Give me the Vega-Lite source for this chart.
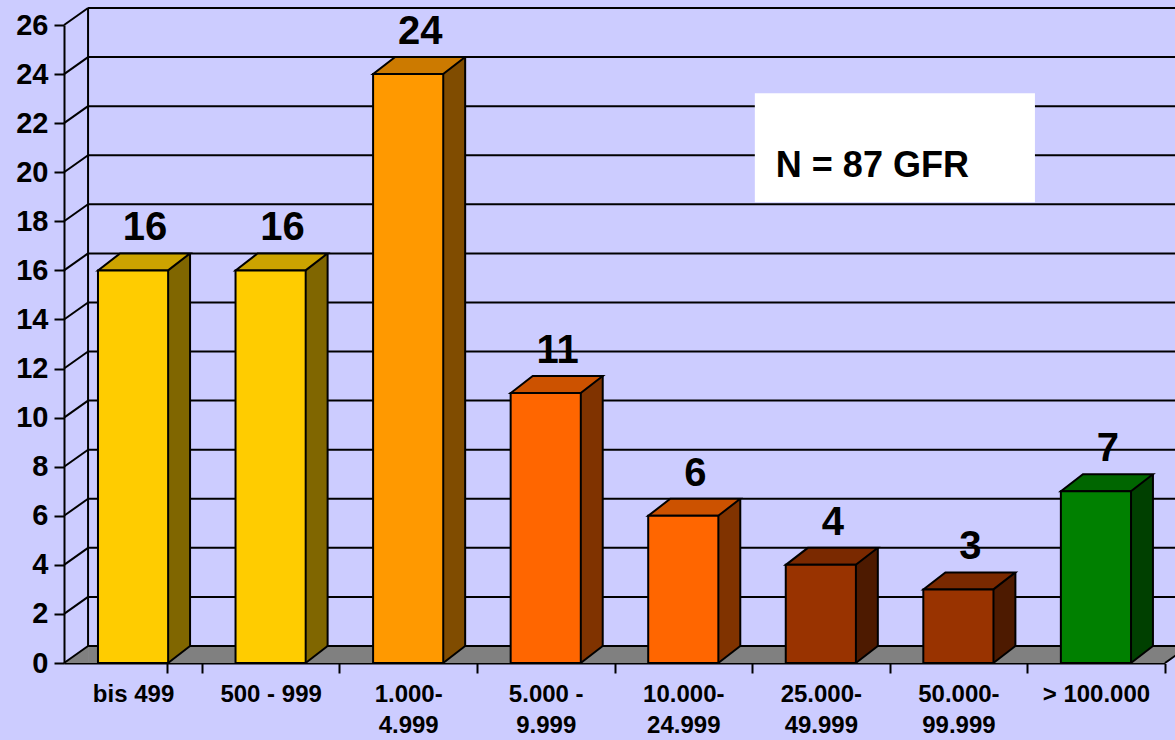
{
  "$schema": "https://vega.github.io/schema/vega-lite/v6.json",
  "width": 1101,
  "height": 638,
  "autosize": {"type": "none"},
  "padding": {"left": 64, "top": 25, "right": 10, "bottom": 77},
  "background": "#CCCCFF",
  "config": {
    "view": {"stroke": null},
    "font": "Liberation Sans",
    "axis": {
      "labelFont": "Liberation Sans",
      "labelFontWeight": "bold",
      "labelColor": "black",
      "domainColor": "black",
      "tickColor": "black",
      "domainWidth": 2,
      "tickWidth": 2,
      "tickSize": 10,
      "grid": false,
      "title": null,
      "zindex": 1
    }
  },
  "datasets": {
    "bars": [
      {"cat": "bis 499", "n": 16},
      {"cat": "500 - 999", "n": 16},
      {"cat": "1.000-\n4.999", "n": 24},
      {"cat": "5.000 -\n9.999", "n": 11},
      {"cat": "10.000-\n24.999", "n": 6},
      {"cat": "25.000-\n49.999", "n": 4},
      {"cat": "50.000-\n99.999", "n": 3},
      {"cat": "> 100.000", "n": 7}
    ],
    "ticks": [
      {"v": 0}, {"v": 2}, {"v": 4}, {"v": 6}, {"v": 8}, {"v": 10}, {"v": 12},
      {"v": 14}, {"v": 16}, {"v": 18}, {"v": 20}, {"v": 22}, {"v": 24}, {"v": 26}
    ],
    "one": [{}]
  },
  "resolve": {"scale": {"fill": "independent"}},
  "layer": [
    {
      "data": {"name": "one"},
      "mark": {"type": "rule", "color": "#808080", "strokeWidth": 17, "strokeCap": "butt", "yOffset": -8.5, "xOffset": -45, "x2Offset": 100},
      "encoding": {
        "x": {"datum": "bis 499", "type": "nominal", "scale": {"type": "band", "domain": ["bis 499", "500 - 999", "1.000-\n4.999", "5.000 -\n9.999", "10.000-\n24.999", "25.000-\n49.999", "50.000-\n99.999", "> 100.000"], "paddingInner": 0.49, "paddingOuter": 0.247}},
        "x2": {"datum": "> 100.000"},
        "y": {"datum": 0, "type": "quantitative", "scale": {"domain": [0, 26], "nice": false, "zero": true}}
      }
    },
    {
      "data": {"name": "one"},
      "mark": {"type": "point", "shape": "M-69,0L-45,0L-45,-17Z", "size": 4, "filled": true, "fill": "#808080", "stroke": null, "opacity": 1},
      "encoding": {
        "x": {"datum": "bis 499", "type": "nominal"},
        "y": {"datum": 0, "type": "quantitative"}
      }
    },
    {
      "data": {"name": "one"},
      "mark": {"type": "point", "shape": "M69,1L93,-17L120,-17L120,1Z", "size": 4, "filled": true, "fill": "#CCCCFF", "stroke": null, "opacity": 1},
      "encoding": {
        "x": {"datum": "> 100.000", "type": "nominal"},
        "y": {"datum": 0, "type": "quantitative"}
      }
    },
    {
      "data": {"name": "one"},
      "mark": {"type": "point", "shape": "M69,0L93,-17", "size": 4, "filled": false, "stroke": "black", "strokeWidth": 2, "opacity": 1},
      "encoding": {
        "x": {"datum": "> 100.000", "type": "nominal"},
        "y": {"datum": 0, "type": "quantitative"}
      }
    },
    {
      "data": {"name": "ticks"},
      "mark": {"type": "rule", "color": "black", "strokeWidth": 2, "yOffset": -17, "xOffset": -45, "x2Offset": 100},
      "encoding": {
        "x": {"datum": "bis 499", "type": "nominal"},
        "x2": {"datum": "> 100.000"},
        "y": {"field": "v", "type": "quantitative", "title": null}
      }
    },
    {
      "data": {"name": "ticks"},
      "mark": {"type": "rule", "color": "black", "strokeWidth": 2, "xOffset": -69, "x2Offset": -45, "y2Offset": -17},
      "encoding": {
        "x": {"datum": "bis 499", "type": "nominal"},
        "x2": {"datum": "bis 499"},
        "y": {"field": "v", "type": "quantitative", "title": null},
        "y2": {"field": "v"}
      }
    },
    {
      "data": {"name": "one"},
      "mark": {"type": "rule", "color": "black", "strokeWidth": 2, "xOffset": -45, "yOffset": -17, "y2Offset": -17},
      "encoding": {
        "x": {"datum": "bis 499", "type": "nominal"},
        "y": {"datum": 26, "type": "quantitative"},
        "y2": {"datum": 0}
      }
    },
    {
      "data": {"name": "bars"},
      "mark": {"type": "bar", "width": 22, "xOffset": 46, "yOffset": -17, "y2Offset": -17, "stroke": null},
      "encoding": {
        "x": {"field": "cat", "type": "nominal", "sort": null, "title": null},
        "y": {"field": "n", "type": "quantitative", "title": null},
        "y2": {"datum": 0},
        "fill": {"field": "cat", "type": "nominal", "legend": null, "scale": {"domain": ["bis 499", "500 - 999", "1.000-\n4.999", "5.000 -\n9.999", "10.000-\n24.999", "25.000-\n49.999", "50.000-\n99.999", "> 100.000"], "range": ["#806600", "#806600", "#804C00", "#803300", "#803300", "#4D1A00", "#4D1A00", "#004000"]}}
      }
    },
    {
      "data": {"name": "bars"},
      "mark": {"type": "point", "shape": "M35,0L35,-18L57,-18L57,-17Z", "size": 4, "filled": true, "stroke": null, "opacity": 1},
      "encoding": {
        "x": {"field": "cat", "type": "nominal", "sort": null, "title": null},
        "y": {"datum": 0, "type": "quantitative"},
        "fill": {"field": "cat", "type": "nominal", "legend": null, "scale": {"domain": ["bis 499", "500 - 999", "1.000-\n4.999", "5.000 -\n9.999", "10.000-\n24.999", "25.000-\n49.999", "50.000-\n99.999", "> 100.000"], "range": ["#806600", "#806600", "#804C00", "#803300", "#803300", "#4D1A00", "#4D1A00", "#004000"]}}
      }
    },
    {
      "data": {"name": "bars"},
      "mark": {"type": "point", "shape": "M35,0L57,-17", "size": 4, "filled": false, "stroke": "black", "strokeWidth": 2, "opacity": 1},
      "encoding": {
        "x": {"field": "cat", "type": "nominal", "sort": null, "title": null},
        "y": {"datum": 0, "type": "quantitative"}
      }
    },
    {
      "data": {"name": "bars"},
      "mark": {"type": "rule", "color": "black", "strokeWidth": 2, "xOffset": 57, "yOffset": -17, "y2Offset": -17},
      "encoding": {
        "x": {"field": "cat", "type": "nominal", "sort": null, "title": null},
        "y": {"field": "n", "type": "quantitative", "title": null},
        "y2": {"datum": 0}
      }
    },
    {
      "data": {"name": "bars"},
      "mark": {"type": "point", "shape": "M-35,0L35,0L57,-17L-13,-17Z", "size": 4, "filled": true, "stroke": "black", "strokeWidth": 2, "strokeJoin": "miter", "opacity": 1},
      "encoding": {
        "x": {"field": "cat", "type": "nominal", "sort": null, "title": null},
        "y": {"field": "n", "type": "quantitative", "title": null},
        "fill": {"field": "cat", "type": "nominal", "legend": null, "scale": {"domain": ["bis 499", "500 - 999", "1.000-\n4.999", "5.000 -\n9.999", "10.000-\n24.999", "25.000-\n49.999", "50.000-\n99.999", "> 100.000"], "range": ["#CCA300", "#CCA300", "#CC7A00", "#CC5200", "#CC5200", "#7A2900", "#7A2900", "#006600"]}}
      }
    },
    {
      "data": {"name": "bars"},
      "mark": {"type": "bar", "stroke": "black", "strokeWidth": 2},
      "encoding": {
        "x": {
          "field": "cat", "type": "nominal", "sort": null, "title": null,
          "axis": {"labelExpr": "split(datum.label, '\\n')", "labelFontSize": 24, "labelAngle": 0, "labelAlign": "center", "labelLineHeight": 31, "labelPadding": 9, "labelBaseline": "top", "tickOffset": 68.8, "labelOffset": -68.8, "tickExtra": true, "labelFlush": false, "labelOverlap": false, "title": null}
        },
        "y": {
          "field": "n", "type": "quantitative", "title": null,
          "axis": {"values": [0, 2, 4, 6, 8, 10, 12, 14, 16, 18, 20, 22, 24, 26], "labelFontSize": 29, "labelPadding": 6, "title": null}
        },
        "y2": {"datum": 0},
        "fill": {"field": "cat", "type": "nominal", "legend": null, "scale": {"domain": ["bis 499", "500 - 999", "1.000-\n4.999", "5.000 -\n9.999", "10.000-\n24.999", "25.000-\n49.999", "50.000-\n99.999", "> 100.000"], "range": ["#FFCC00", "#FFCC00", "#FF9900", "#FF6600", "#FF6600", "#993300", "#993300", "#008000"]}}
      }
    },
    {
      "data": {"name": "bars"},
      "mark": {"type": "text", "fontSize": 40, "fontWeight": "bold", "font": "Liberation Sans", "color": "black", "dx": 12, "dy": -30, "baseline": "alphabetic"},
      "encoding": {
        "x": {"field": "cat", "type": "nominal", "sort": null, "title": null},
        "y": {"field": "n", "type": "quantitative", "title": null},
        "text": {"field": "n", "type": "quantitative"}
      }
    },
    {
      "data": {"name": "one"},
      "mark": {"type": "rule", "color": "white", "strokeWidth": 109, "strokeCap": "butt", "xOffset": -66, "x2Offset": -61},
      "encoding": {
        "x": {"datum": "25.000-\n49.999", "type": "nominal"},
        "x2": {"datum": "> 100.000"},
        "y": {"datum": 21, "type": "quantitative"}
      }
    },
    {
      "data": {"name": "one"},
      "mark": {"type": "text", "text": "N = 87 GFR", "fontSize": 36, "fontWeight": "bold", "font": "Liberation Sans", "color": "black", "align": "left", "baseline": "alphabetic", "dx": -45},
      "encoding": {
        "x": {"datum": "25.000-\n49.999", "type": "nominal"},
        "y": {"datum": 19.8, "type": "quantitative"}
      }
    }
  ]
}
